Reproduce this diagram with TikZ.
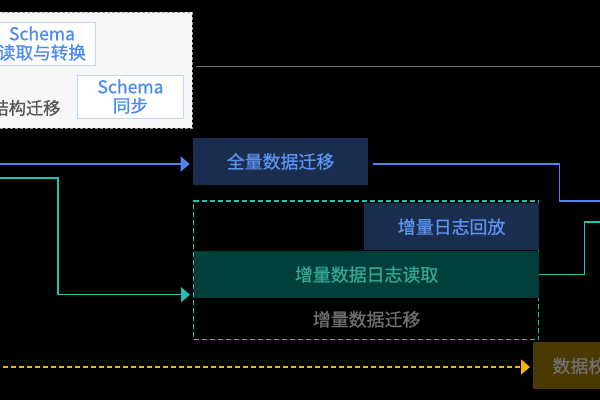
\documentclass[tikz,border=0pt]{standalone}
\usepackage{fontspec}
\setmainfont{Noto Sans CJK SC}[FakeBold=0.9]
\usetikzlibrary{arrows.meta,positioning}

\definecolor{panelfill}{HTML}{F7F7F7}
\definecolor{panelline}{HTML}{A0A0A0}
\definecolor{schemaline}{HTML}{BFD6FF}
\definecolor{schematext}{HTML}{4B8BF5}
\definecolor{graytext}{HTML}{555555}
\definecolor{dimtext}{HTML}{707070}
\definecolor{grayline}{HTML}{6A6A6A}
\definecolor{blueline}{HTML}{4F86EC}
\definecolor{bluefill}{HTML}{1B2D4E}
\definecolor{bluetext}{HTML}{5B92EE}
\definecolor{tealline}{HTML}{1CC2B2}
\definecolor{greenfill}{HTML}{003F3A}
\definecolor{greentext}{HTML}{35A693}
\definecolor{yellowline}{HTML}{F2B50C}
\definecolor{brownfill}{HTML}{4A3900}

\begin{document}
\begin{tikzpicture}[
    x=0.02cm, y=-0.02cm,
    panel/.style={draw=panelline, dash pattern=on 0.06cm off 0.04cm, fill=panelfill,
        minimum width=4.24cm, minimum height=2.32cm, anchor=north west, inner sep=0pt},
    schemabox/.style={draw=schemaline, fill=white, text=schematext, align=center,
        minimum width=2.13cm, minimum height=0.86cm, inner sep=0pt,
        font=\fontsize{10}{10.8}\selectfont},
    stagebox/.style={minimum width=3.5cm, minimum height=0.94cm, inner sep=0pt},
    flow/.style={line width=0.03cm},
    tip/.style={-{Triangle[length=0.18cm, width=0.3cm]}, shorten >=0.06cm},
    every node/.style={font=\fontsize{10.2}{12}\selectfont}
]
\useasboundingbox (0,0) rectangle (600,400);
\fill[black] (0,0) rectangle (600,400);
\clip (0,0) rectangle (600,400);

% schema migration panel
\node[panel] (panel) at (-20,12) {};
\node[schemabox] (schemaread) at (42,43.5) {Schema\\读取与转换};
\node[schemabox] (schemasync) at (130.5,96.5) {Schema\\同步};
\node[text=graytext, font=\fontsize{9.8}{12}\selectfont] (structmig) at (26,108) {结构迁移};
\draw[flow, grayline] ([shift={(0.06cm,0.08cm)}]panel.east) -- ++(420,0);

% full migration
\node[stagebox, fill=bluefill, text=bluetext] (fullmig) at (280.5,161.5) {全量数据迁移};
\coordinate (bluein) at (-5,164);
\coordinate (blueout) at (610,201);
\coordinate (fullout) at ([xshift=0.1cm]fullmig.east);
\draw[flow, blueline, tip] (bluein) -- (bluein -| fullmig.west);
\draw[flow, blueline] (fullout |- bluein) -- ++(186,0) |- (blueout);

% incremental migration
\node[draw=tealline, dash pattern=on 0.1cm off 0.06cm, line width=0.03cm,
    minimum width=6.9cm, minimum height=2.78cm, anchor=north west, inner sep=0pt] (incmig) at (193,200) {};
\node[stagebox, fill=bluefill, text=bluetext, anchor=north east] (logreplay)
    at ([yshift=-0.06cm]incmig.north east) {增量日志回放};
\node[stagebox, minimum width=6.9cm, fill=greenfill, text=greentext, anchor=north east] (logread)
    at (logreplay.south east) {增量数据日志读取};
\node[text=dimtext] (inclabel) at ([yshift=-0.42cm]logread.south) {增量数据迁移};
\coordinate (tealin) at (-5,178);
\coordinate (tealout) at (610,222);
\draw[flow, tealline, tip] (tealin) -- ++(63,0) |- ([yshift=-0.49cm]incmig.west);
\draw[flow, tealline] (logread.east) -- ++(45,0) |- (tealout);

% data check
\node[stagebox, minimum width=2.2cm, fill=brownfill, text=dimtext, anchor=north west] (datacheck)
    at (533,342) {数据校验};
\coordinate (checkin) at (-5,367);
\draw[flow, yellowline, dash pattern=on 0.1cm off 0.06cm, tip] (checkin) -- (checkin -| datacheck.west);
\end{tikzpicture}
\end{document}
